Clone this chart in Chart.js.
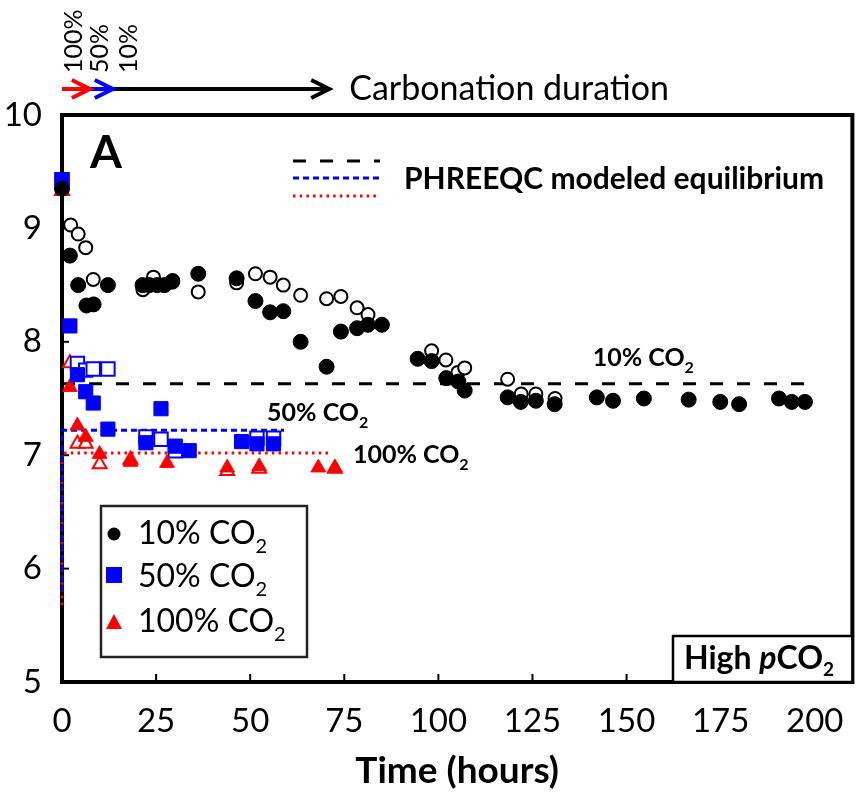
<!DOCTYPE html>
<html>
<head>
<meta charset="utf-8">
<script src="https://cdn.jsdelivr.net/npm/chart.js@4.4.1/dist/chart.umd.min.js"></script>
<style>
  html, body { margin: 0; padding: 0; background: #fff; }
</style>
</head>
<body>
<canvas id="myChart" width="864" height="801"></canvas>
<script>
// 10% CO2, replicate 1 (filled) and replicate 2 (open)
const t10a = [0, 2.1, 4.3, 6.5, 8.4, 12.2, 21.4, 23.2, 25.3, 27.2, 29.3, 36.2, 46.4, 51.4, 55.3, 58.8, 63.4, 70.3, 74.1, 78.4,
  81.3, 85.0, 94.5, 98.2, 102.1, 105.3, 107.0, 118.4, 121.9, 125.9, 130.9, 142.1, 146.4, 154.6, 166.5, 174.9, 179.9, 190.5, 193.9, 197.4];
const ph10a = [9.35, 8.76, 8.50, 8.32, 8.33, 8.50, 8.50, 8.50, 8.50, 8.50, 8.53, 8.60, 8.56, 8.36, 8.26, 8.27, 8.00, 7.78, 8.09, 8.12,
  8.15, 8.15, 7.85, 7.83, 7.68, 7.65, 7.57, 7.51, 7.47, 7.48, 7.45, 7.51, 7.48, 7.50, 7.49, 7.47, 7.45, 7.50, 7.47, 7.47];
const t10b = [0, 2.3, 4.3, 6.3, 8.3, 21.5, 24.3, 29.4, 36.2, 46.4, 51.4, 55.3, 58.8, 63.4, 70.3, 74.1, 78.4, 81.3,
  98.2, 102.0, 105.2, 107.0, 118.4, 122.0, 125.9, 131.0];
const ph10b = [9.35, 9.03, 8.95, 8.83, 8.55, 8.46, 8.57, 8.54, 8.44, 8.52, 8.60, 8.57, 8.50, 8.41, 8.38, 8.40, 8.30, 8.24,
  7.92, 7.84, 7.73, 7.77, 7.67, 7.54, 7.54, 7.50];

// 50% CO2
const t50a = [0, 2.1, 4.1, 6.3, 8.3, 12.2, 22.3, 26.3, 30.1, 33.8, 47.7, 51.8, 56.2];
const ph50a = [9.43, 8.14, 7.71, 7.56, 7.46, 7.23, 7.11, 7.41, 7.08, 7.04, 7.12, 7.10, 7.10];
const t50b = [0, 4.1, 6.3, 8.3, 12.2, 22.3, 26.3, 30.1, 51.8, 56.2];
const ph50b = [9.43, 7.81, 7.75, 7.76, 7.76, 7.16, 7.14, 7.04, 7.15, 7.15];

// 100% CO2
const t100a = [0, 2.1, 4.1, 6.3, 10.0, 18.2, 27.9, 43.9, 52.4, 68.1, 72.5];
const ph100a = [9.33, 7.60, 7.26, 7.16, 7.01, 6.94, 6.93, 6.89, 6.90, 6.89, 6.89];
const t100b = [0, 2.1, 4.1, 6.3, 10.0, 18.2, 43.9, 52.4, 72.5];
const ph100b = [9.33, 7.81, 7.10, 7.10, 6.92, 6.96, 6.86, 6.88, 6.88];

// PHREEQC modeled equilibrium
const modelT10 = [0, 200];
const modelPh10 = [7.63, 7.63];
const modelT50 = [0, 0, 59];
const modelPh50 = [5.80, 7.22, 7.22];
const modelT100 = [0, 0, 71];
const modelPh100 = [5.68, 7.02, 7.02];

// carbonation duration arrows (hours): 100%, 50%, 10%
const arrowStops = [0, 7.4, 13.5, 71];
const arrowLabels = ['100%', '50%', '10%'];
const arrowLabelAt = [3.2, 10, 17.7];

const xTicks = [0, 200, 25];
const yTicks = [5, 10, 1];

const FONT = 'Lato';
const BLACK = '#000000', BLUE = '#0000ff', RED = '#ff0000';

const pts = (xs, ys) => xs.map((x, i) => ({x: x, y: ys[i]}));

function filled(label, xs, ys, color, style, r) {
  return {label, data: pts(xs, ys), pointStyle: style, pointRadius: r, pointBackgroundColor: color,
    pointBorderColor: color, pointBorderWidth: 1, showLine: false, order: 1, clip: false};
}
function open(label, xs, ys, color, style, r) {
  return {label, data: pts(xs, ys), pointStyle: style, pointRadius: r, pointBackgroundColor: '#fff',
    pointBorderColor: color, pointBorderWidth: 2, showLine: false, order: 2, clip: false};
}
function model(label, xs, ys, color, dash) {
  return {label, data: pts(xs, ys), showLine: true, borderColor: color, borderWidth: 3, borderDash: dash,
    pointRadius: 0, order: 3, clip: false};
}

function runs(ctx, x, y, parts) {
  parts.forEach(p => {
    ctx.font = p.font;
    ctx.fillText(p.text, x, y + (p.dy || 0));
    x += ctx.measureText(p.text).width;
  });
  return x;
}
function co2(ctx, x, y, prefix, size, weight) {
  return runs(ctx, x, y, [
    {text: prefix + ' CO', font: weight + ' ' + size + 'px ' + FONT},
    {text: '2', font: weight + ' ' + Math.round(size * 0.62) + 'px ' + FONT, dy: size * 0.4}
  ]);
}
function seg(ctx, x0, y0, x1, y1) {
  ctx.beginPath(); ctx.moveTo(x0, y0); ctx.lineTo(x1, y1); ctx.stroke();
}
function arrow(ctx, x0, x1, y, color) {
  ctx.strokeStyle = color;
  ctx.lineWidth = 4;
  ctx.lineCap = 'butt';
  seg(ctx, x0, y, x1 - 2, y);
  ctx.lineJoin = 'miter';
  ctx.beginPath();
  ctx.moveTo(x1 - 18, y - 9); ctx.lineTo(x1, y); ctx.lineTo(x1 - 18, y + 9);
  ctx.stroke();
}

const frame = {
  id: 'frame',
  beforeDatasetsDraw(chart) {
    const {ctx, chartArea: a, scales} = chart;
    ctx.save();
    ctx.strokeStyle = BLACK;
    ctx.lineWidth = 4;
    ctx.strokeRect(a.left, a.top, a.right - a.left, a.bottom - a.top);
    ctx.lineWidth = 2;
    scales.x.ticks.forEach((tk, i) => {
      const px = scales.x.getPixelForTick(i);
      seg(ctx, px, a.bottom, px, a.bottom - 8);
    });
    scales.y.ticks.forEach((tk, i) => {
      const py = scales.y.getPixelForTick(i);
      seg(ctx, a.left, py, a.left + 7, py);
    });
    ctx.restore();
  },
  afterDatasetsDraw(chart) {
    const {ctx, chartArea: a, scales} = chart;
    const X = v => scales.x.getPixelForValue(v);
    const Y = v => scales.y.getPixelForValue(v);
    ctx.save();
    ctx.fillStyle = BLACK;
    ctx.textBaseline = 'middle';
    ctx.textAlign = 'left';

    // panel letter
    ctx.font = 'bold 46px ' + FONT;
    ctx.fillText('A', 90, a.top + 38);

    // series labels next to model lines
    co2(ctx, X(141), Y(7.86), '10%', 25, 'bold');
    co2(ctx, X(54.5), Y(7.37), '50%', 25, 'bold');
    co2(ctx, X(77.3), Y(7.0), '100%', 25, 'bold');

    // model legend (top)
    const lx0 = 293, lx1 = 380;
    [[BLACK, [13, 14], 161], [BLUE, [6, 4], 178], [RED, [2.5, 4.2], 196]].forEach(l => {
      ctx.strokeStyle = l[0]; ctx.lineWidth = 3; ctx.setLineDash(l[1]);
      seg(ctx, lx0, l[2], lx1, l[2]);
    });
    ctx.setLineDash([]);
    ctx.font = 'bold 30px ' + FONT;
    ctx.fillText('PHREEQC modeled equilibrium', 404, 179);

    // marker legend box
    ctx.strokeStyle = '#222'; ctx.lineWidth = 2.5;
    ctx.strokeRect(101, 506, 206, 151);
    ctx.fillStyle = BLACK;
    ctx.beginPath(); ctx.arc(114, 534, 6.5, 0, Math.PI * 2); ctx.fill();
    ctx.fillStyle = BLUE;
    ctx.fillRect(106, 567, 16, 16);
    ctx.fillStyle = RED;
    ctx.beginPath(); ctx.moveTo(114, 614); ctx.lineTo(122, 629); ctx.lineTo(106, 629); ctx.closePath(); ctx.fill();
    ctx.fillStyle = BLACK;
    co2(ctx, 138, 534, '10%', 32, 'normal');
    co2(ctx, 138, 577, '50%', 32, 'normal');
    co2(ctx, 138, 622, '100%', 32, 'normal');

    // High pCO2 box
    ctx.fillStyle = '#fff';
    ctx.fillRect(673, a.bottom - 46, a.right - 673, 46);
    ctx.strokeStyle = BLACK; ctx.lineWidth = 2.5;
    ctx.strokeRect(673, a.bottom - 46, a.right - 673, 46);
    ctx.fillStyle = BLACK;
    runs(ctx, 684, a.bottom - 23, [
      {text: 'High ', font: 'bold 32px ' + FONT},
      {text: 'p', font: 'italic bold 32px ' + FONT},
      {text: 'CO', font: 'bold 32px ' + FONT},
      {text: '2', font: 'bold 19px ' + FONT, dy: 11}
    ]);

    // carbonation duration arrows
    const ay = a.top - 26;
    arrow(ctx, X(arrowStops[2]), X(arrowStops[3]), ay, BLACK);
    arrow(ctx, X(arrowStops[1]), X(arrowStops[2]), ay, BLUE);
    arrow(ctx, X(arrowStops[0]), X(arrowStops[1]), ay, RED);
    ctx.font = '34px ' + FONT;
    ctx.fillText('Carbonation duration', X(arrowStops[3]) + 20, ay);
    ctx.font = '25px ' + FONT;
    arrowLabels.forEach((s, i) => {
      ctx.save();
      ctx.translate(X(arrowLabelAt[i]), a.top - 42);
      ctx.rotate(-Math.PI / 2);
      ctx.fillText(s, 0, 0);
      ctx.restore();
    });
    ctx.restore();
  }
};

const ctx = document.getElementById('myChart').getContext('2d');
const myChart = new Chart(ctx, {
  type: 'scatter',
  data: {
    datasets: [
      filled('10% CO2', t10a, ph10a, BLACK, 'circle', 7.5),
      open('10% CO2 (rep. 2)', t10b, ph10b, BLACK, 'circle', 6.5),
      filled('50% CO2', t50a, ph50a, BLUE, 'rect', 10),
      open('50% CO2 (rep. 2)', t50b, ph50b, BLUE, 'rect', 9.5),
      filled('100% CO2', t100a, ph100a, RED, 'triangle', 8.5),
      open('100% CO2 (rep. 2)', t100b, ph100b, RED, 'triangle', 8),
      model('PHREEQC 10%', modelT10, modelPh10, BLACK, [13, 14]),
      model('PHREEQC 50%', modelT50, modelPh50, BLUE, [6, 4]),
      model('PHREEQC 100%', modelT100, modelPh100, RED, [2.5, 4.2])
    ]
  },
  plugins: [frame],
  options: {
    responsive: false,
    animation: false,
    layout: {padding: {top: 115, right: 7, left: 0, bottom: 0}},
    plugins: {legend: {display: false}, tooltip: {enabled: false}},
    scales: {
      x: {
        type: 'linear', min: xTicks[0], max: 210,
        grid: {display: false, drawTicks: false},
        border: {display: false},
        ticks: {stepSize: xTicks[2], includeBounds: false, padding: 20, color: BLACK,
          font: {family: FONT, size: 33}},
        title: {display: true, text: 'Time (hours)', color: BLACK, padding: {top: 0, bottom: 8},
          font: {family: FONT, size: 37, weight: 'bold'}},
        afterFit(scale) { scale.height = 119; }
      },
      y: {
        type: 'linear', min: yTicks[0], max: yTicks[1],
        grid: {display: false, drawTicks: false},
        border: {display: false},
        ticks: {stepSize: yTicks[2], padding: 20, color: BLACK, font: {family: FONT, size: 33}},
        afterFit(scale) { scale.width = 62; }
      }
    }
  }
});
</script>
</body>
</html>
